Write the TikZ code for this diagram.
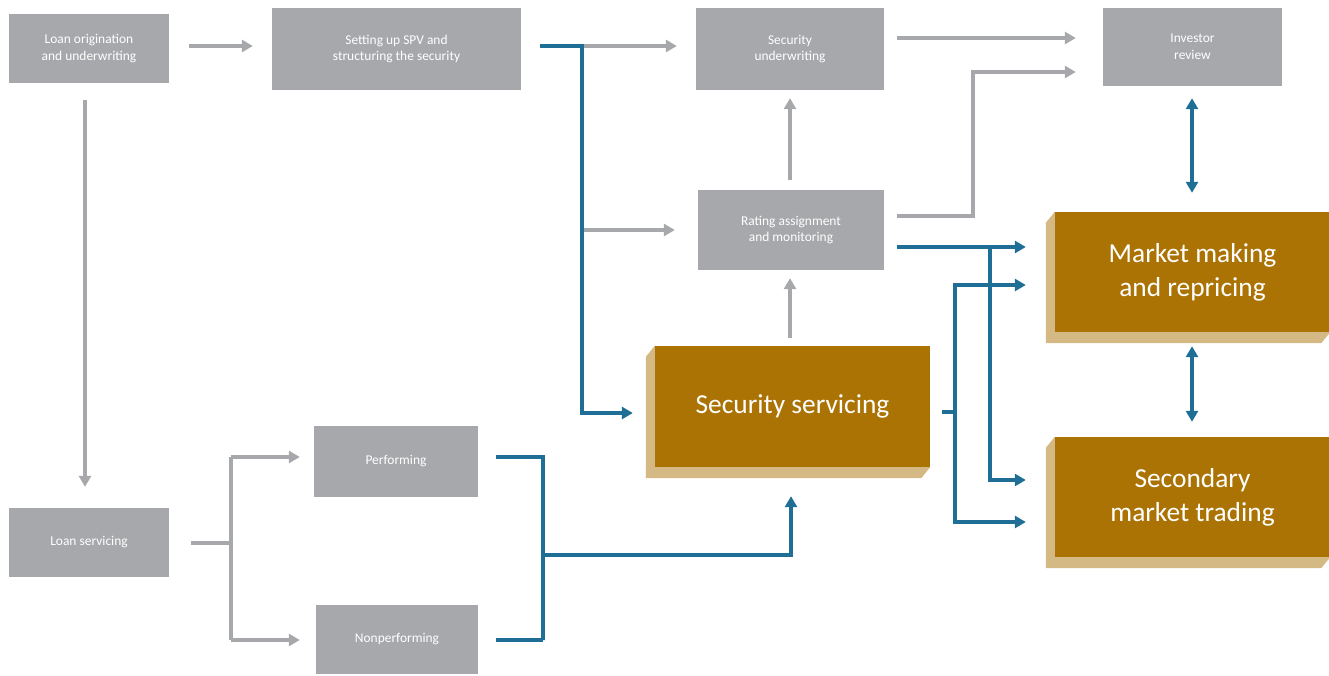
\documentclass[tikz,border=0pt]{standalone}
\usepackage{fontspec}
\setmainfont{Carlito}
\usetikzlibrary{arrows.meta,calc}
\definecolor{boxgray}{RGB}{167,168,171}
\definecolor{linegray}{RGB}{167,168,171}
\definecolor{bluel}{RGB}{30,110,150}
\definecolor{gold}{RGB}{171,115,4}
\definecolor{tanshadow}{RGB}{212,185,133}
\begin{document}
\begin{tikzpicture}[x=1bp,y=-1bp,
 gbox/.style={fill=boxgray, text=white, align=center, inner sep=0pt, font=\fontsize{13.5}{17}\selectfont},
 obox/.style={fill=gold, text=white, align=center, inner sep=0pt, minimum width=275bp, minimum height=120bp, font=\fontsize{27.5}{34}\selectfont},
 tip/.style={-{Triangle[length=11bp,width=12bp]}},
 garr/.style={draw=linegray, line width=3.8bp, tip},
 bline/.style={draw=bluel, line width=3.8bp},
 barr/.style={bline, tip},
 bdarr/.style={bline, {Triangle[length=11bp,width=12bp]}-{Triangle[length=11bp,width=12bp]}},
 shadowfill/.style={fill=tanshadow},
]
\useasboundingbox (0,0) rectangle (1329,675);
% grey boxes
\node[gbox, minimum width=160bp, minimum height=69bp] (lo) at (89,48.5) {Loan origination\\and underwriting};
\node[gbox, minimum width=249bp, minimum height=82bp] (spv) at (396.5,49) {Setting up SPV and\\structuring the security};
\node[gbox, minimum width=188bp, minimum height=82bp] (su) at (790,49) {Security\\underwriting};
\node[gbox, minimum width=179bp, minimum height=78bp] (ir) at (1192.5,47) {Investor\\review};
\node[gbox, minimum width=186bp, minimum height=80bp] (ra) at (791,230) {Rating assignment\\and monitoring};
\node[gbox, minimum width=164bp, minimum height=71bp] (perf) at (396,461.5) {Performing};
\node[gbox, minimum width=162bp, minimum height=69bp] (nonp) at (397,639.5) {Nonperforming};
\node[gbox, minimum width=160bp, minimum height=69bp] (ls) at (89,542.5) {Loan servicing};
% gold boxes
\node[obox, minimum height=121bp] (ss) at (792.5,406.5) {Security servicing};
\node[obox] (mm) at (1192.5,272) {Market making\\and repricing};
\node[obox] (smt) at (1192.5,497) {Secondary\\market trading};
\foreach \n in {ss,mm,smt}{
  \fill[shadowfill] (\n.north west) -- ++(-9,11) -- ($(\n.south west)+(-9,11)$) -- ($(\n.south east)+(-9,11)$) -- (\n.south east) -- (\n.south west) -- cycle;
}
% junction coordinates
\coordinate (j1) at (582,46);
\coordinate (j2) at (582,230);
\coordinate (j4) at (582,413);
\coordinate (j5) at (973,216);
\coordinate (j6) at (973,72);
\coordinate (j7) at (231,543);
\coordinate (j8) at (231,457);
\coordinate (j9) at (231,640);
\coordinate (k1) at (543,457);
\coordinate (k2) at (543,640);
\coordinate (k3) at (543,555);
\coordinate (k4) at (791,555);
\coordinate (m1) at (990,247);
\coordinate (m2) at (990,480);
\coordinate (n1) at (955,412);
\coordinate (n2) at (955,285);
\coordinate (n3) at (955,522);
% grey connectors
\draw[garr, shorten <=20bp, shorten >=19bp] ([yshift=2.5bp]lo.east) -- ([yshift=2.5bp]lo.east -| spv.west);
\draw[garr, shorten <=17bp, shorten >=21bp] ([xshift=-4bp]lo.south) -- ([xshift=-4bp]lo.south |- ls.north);
\draw[garr, shorten >=19bp] (j1) -- (j1 -| su.west);
\draw[garr, shorten >=23bp] (j2) -- (j2 -| ra.west);
\draw[garr, shorten <=13bp, shorten >=27bp] ([yshift=11bp]su.east) -- ([yshift=11bp]su.east -| ir.west);
\draw[garr, shorten <=13bp, shorten >=27bp] ([yshift=14bp]ra.east) -- (j5) -- (j6) -- (j6 -| ir.west);
\draw[garr, shorten <=10bp, shorten >=8bp] ([xshift=-1bp]ra.north) -- ([xshift=-1bp]ra.north |- su.south);
\draw[garr, shorten <=8bp, shorten >=8bp] ([xshift=-2.5bp]ss.north) -- ([xshift=-2.5bp]ss.north |- ra.south);
\draw[linegray, line width=3.8bp, shorten <=22bp] ([yshift=-0.5bp]ls.east) -- (j7);
\draw[linegray, line width=3.8bp] (j8) -- (j9);
\draw[garr, shorten >=14bp] (j8) -- (j8 -| perf.west);
\draw[garr, shorten >=16bp] (j9) -- (j9 -| nonp.west);
% blue connectors
\draw[barr, shorten <=19bp, shorten >=22bp] ([yshift=3bp]spv.east) -- (j1) -- (j4) -- (j4 -| ss.west);
\draw[bline, shorten <=18bp] ([yshift=4.5bp]perf.east) -- (k1) -- (k2);
\draw[bline, shorten >=18bp] (k2) -- (k2 -| nonp.east);
\draw[barr, shorten >=29bp] (k3) -- (k4) -- (k4 |- ss.south);
\draw[barr, shorten <=13bp, shorten >=29bp] ([yshift=-17bp]ra.east) -- (m1 -| mm.west);
\draw[barr, shorten >=29bp] (m1) -- (m2) -- (m2 -| smt.west);
\draw[bline, shorten <=12bp] ([yshift=-5.5bp]ss.east) -- (n1);
\draw[barr, shorten >=29bp] (n1) -- (n2) -- (n2 -| mm.west);
\draw[barr, shorten >=29bp] (n1) -- (n3) -- (n3 -| smt.west);
\draw[bdarr, shorten <=12bp, shorten >=19bp] ([xshift=-0.5bp]ir.south) -- ([xshift=-0.5bp]ir.south |- mm.north);
\draw[bdarr, shorten <=14bp, shorten >=15bp] ([xshift=-0.5bp]mm.south) -- ([xshift=-0.5bp]mm.south |- smt.north);
\end{tikzpicture}
\end{document}
